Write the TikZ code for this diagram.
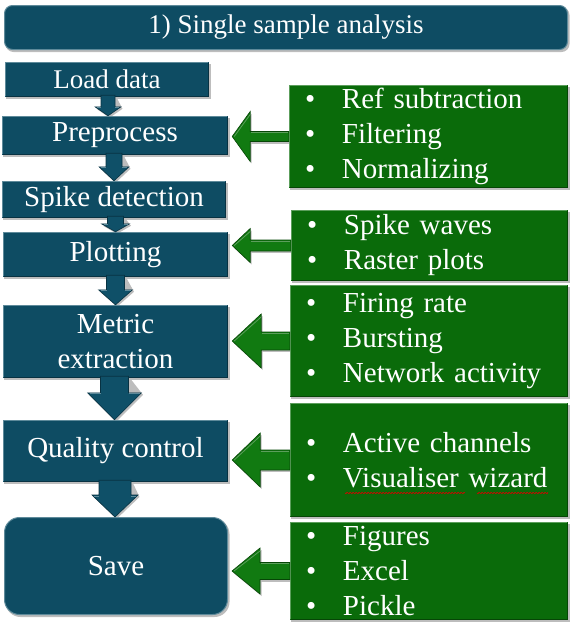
\documentclass[tikz,border=0pt]{standalone}
\usepackage{fontspec}
\setmainfont{Liberation Serif}
\definecolor{bluebox}{HTML}{0E4C63}
\definecolor{bluelight}{HTML}{5E8A9A}
\definecolor{bluedark}{HTML}{083242}
\definecolor{greenbox}{HTML}{0A6B0A}
\definecolor{greenlight}{HTML}{5C9E5C}
\definecolor{greendark}{HTML}{064606}
\definecolor{greenarr}{HTML}{117A11}
\definecolor{bluearr}{HTML}{0F5068}
\definecolor{shadowc}{HTML}{BDBDBD}
\newcommand\gb{\makebox[37pt][l]{\textbullet}}
\pgfdeclarelayer{bg}
\pgfsetlayers{bg,main}
% shadow + bevel for a rectangular node: #1 node, #2 light, #3 dark
\newcommand\boxdeco[3]{%
  \begin{pgfonlayer}{bg}
  \fill[shadowc] ([shift={(1.5,2)}]#1.south west) rectangle ([shift={(1.5,2)}]#1.north east);
  \end{pgfonlayer}
  \draw[#2, line width=1.5pt] ([shift={(0.75,-0.75)}]#1.south west) -- ([shift={(0.75,0.75)}]#1.north west) -- ([shift={(-0.75,0.75)}]#1.north east);
  \draw[#3, line width=1.5pt] ([shift={(-0.75,0.75)}]#1.north east) -- ([shift={(-0.75,-0.75)}]#1.south east) -- ([shift={(0.75,-0.75)}]#1.south west);}
% green block arrow: #1 blue node, #2 green node, #3 head length, #4 head half, #5 shaft half
\newcommand\gArrow[5]{%
  \path (#2.west -| #1.east) coordinate (gt0);
  \coordinate (gt) at ([xshift=4pt]gt0);
  \begin{pgfonlayer}{bg}
  \fill[shadowc] ([shift={(1.5,2)}]gt) -- ([shift={(#3+1.5,-#4+2)}]gt) -- ([shift={(#3+1.5,#4+2)}]gt) -- cycle;
  \fill[shadowc] ([shift={(#3,-#5+2)}]gt) rectangle ([shift={(0,#5+2)}]#2.west);
  \end{pgfonlayer}
  \filldraw[garrow] (gt) -- ([shift={(#3,-#4)}]gt) -- ([shift={(#3,-#5)}]gt) -- ([shift={(0,-#5)}]#2.west)
     -- ([shift={(0,#5)}]#2.west) -- ([shift={(#3,#5)}]gt) -- ([shift={(#3,#4)}]gt) -- cycle;
  \draw[greenlight, line width=0.8pt] ([shift={(2,0)}]gt) -- ([shift={(#3,-#4+3)}]gt);
  \draw[greenlight, line width=0.8pt] ([shift={(#3+1,-#5+1)}]gt) -- ([shift={(-0.5,-#5+1)}]#2.west);}
% blue block arrow: #1 from node, #2 to node, #3 dx, #4 head length, #5 shaft half, #6 head half
\newcommand\bArrow[6]{%
  \coordinate (bt) at ([xshift=#3pt]#2.north);
  \path (bt |- #1.south) coordinate (bs);
  \begin{pgfonlayer}{bg}
  \fill[shadowc] ([shift={(-#5+1.5,0)}]bs) -- ([shift={(-#5+1.5,-#4+2)}]bt) -- ([shift={(-#6+1.5,-#4+2)}]bt) -- ([shift={(1.5,2)}]bt)
     -- ([shift={(#6+1.5,-#4+2)}]bt) -- ([shift={(#5+1.5,0)}]bs) -- cycle;
  \end{pgfonlayer}
  \filldraw[barrow] ([shift={(-#5,-2)}]bs) -- ([shift={(-#5,-#4)}]bt) -- ([shift={(-#6,-#4)}]bt) -- (bt)
     -- ([shift={(#6,-#4)}]bt) -- ([shift={(#5,-#4)}]bt) -- ([shift={(#5,-2)}]bs) -- cycle;
  \draw[bluelight, line width=0.8pt] ([shift={(-#6+2,-#4+1)}]bt) -- ([shift={(-#5,-#4+1)}]bt);
  \draw[bluelight, line width=0.8pt] ([shift={(#5,-#4+1)}]bt) -- ([shift={(#6-2,-#4+1)}]bt);}
\tikzset{
  bbox/.style={fill=bluebox, text=white, inner sep=0pt, font=\fontsize{29}{35}\selectfont, align=center},
  gbox/.style={fill=greenbox, text=white, inner ysep=0pt, inner xsep=16pt, font=\fontsize{29}{35}\selectfont, align=left},
  garrow/.style={fill=greenarr, draw=greendark, line width=0.6pt, line join=miter},
  barrow/.style={fill=bluearr, draw=bluedark, line width=0.6pt, line join=miter},
}
\begin{document}
\begin{tikzpicture}[x=1pt,y=-1pt]
\useasboundingbox (0,0) rectangle (572,622);
% left column
\node[bbox, rounded corners=8pt, draw=bluelight, line width=1pt, minimum width=563pt, minimum height=44pt, font=\fontsize{27}{32}\selectfont] (title) at (286,27.5) {1) Single sample analysis};
\node[bbox, minimum width=204pt, minimum height=35pt, font=\fontsize{27}{32}\selectfont] (load) at (107,79.5) {Load data};
\node[bbox, minimum width=226pt, minimum height=39pt] (pre) at (115,135.5) {Preprocess};
\node[bbox, minimum width=224pt, minimum height=37pt] (spike) at (114,199.5) {Spike detection};
\node[bbox, minimum width=225pt, minimum height=45pt] (plot) at (115.5,254.5) {Plotting};
\node[bbox, minimum width=225pt, minimum height=73pt] (metric) at (115.5,341.5) {Metric\\extraction};
\node[bbox, minimum width=225pt, minimum height=62pt] (qc) at (115.5,451) {Quality control};
\node[bbox, rounded corners=15pt, draw=bluelight, line width=1pt, minimum width=223pt, minimum height=97pt] (save) at (116,566) {Save};
\begin{pgfonlayer}{bg}
\fill[shadowc, rounded corners=8pt] ([shift={(1.5,2)}]title.south west) rectangle ([shift={(1.5,2)}]title.north east);
\fill[shadowc, rounded corners=15pt] ([shift={(1.5,2)}]save.south west) rectangle ([shift={(1.5,2)}]save.north east);
\end{pgfonlayer}
\boxdeco{load}{bluelight}{bluedark}
\boxdeco{pre}{bluelight}{bluedark}
\boxdeco{spike}{bluelight}{bluedark}
\boxdeco{plot}{bluelight}{bluedark}
\boxdeco{metric}{bluelight}{bluedark}
\boxdeco{qc}{bluelight}{bluedark}
% blue arrows
\bArrow{load}{pre}{-7}{9}{7}{13}
\bArrow{pre}{spike}{0}{14}{8}{15}
\bArrow{spike}{plot}{0}{8}{8}{14}
\bArrow{plot}{metric}{0}{15}{9}{17}
\bArrow{metric}{qc}{-1}{27}{14}{27}
\bArrow{qc}{save}{-1}{22}{16}{23}
% green boxes
\node[gbox, text width=247pt, minimum height=103pt] (g1) at (428.5,136.5) {\gb Ref subtraction\\\gb Filtering\\\gb Normalizing};
\node[gbox, text width=245pt, minimum height=71pt] (g2) at (429.5,245.5) {\gb Spike waves\\\gb Raster plots};
\node[gbox, text width=246pt, minimum height=112pt] (g3) at (429,341) {\gb Firing rate\\\gb Bursting\\\gb Network activity};
\node[gbox, text width=246pt, minimum height=114pt] (g4) at (429,460) {\gb Active channels\\\gb Visualiser wizard};
\node[gbox, text width=246pt, minimum height=98pt] (g5) at (429,571) {\gb Figures\\\gb Excel\\\gb Pickle};
\boxdeco{g1}{greenlight}{greendark}
\boxdeco{g2}{greenlight}{greendark}
\boxdeco{g3}{greenlight}{greendark}
\boxdeco{g4}{greenlight}{greendark}
\boxdeco{g5}{greenlight}{greendark}
% green arrows
\gArrow{pre}{g1}{18}{25}{5}
\gArrow{plot}{g2}{18}{17}{5.5}
\gArrow{metric}{g3}{29}{27}{9}
\gArrow{qc}{g4}{28}{27}{10}
\gArrow{save}{g5}{28}{23}{8.5}
% spell-check underline
\draw[red!85!black, line width=0.6pt] plot[domain=0:120, samples=121] ({345+\x}, {493+0.8*sin(\x*120)});
\draw[red!85!black, line width=0.6pt] plot[domain=0:71, samples=72] ({477+\x}, {493+0.8*sin(\x*120)});
\end{tikzpicture}
\end{document}
